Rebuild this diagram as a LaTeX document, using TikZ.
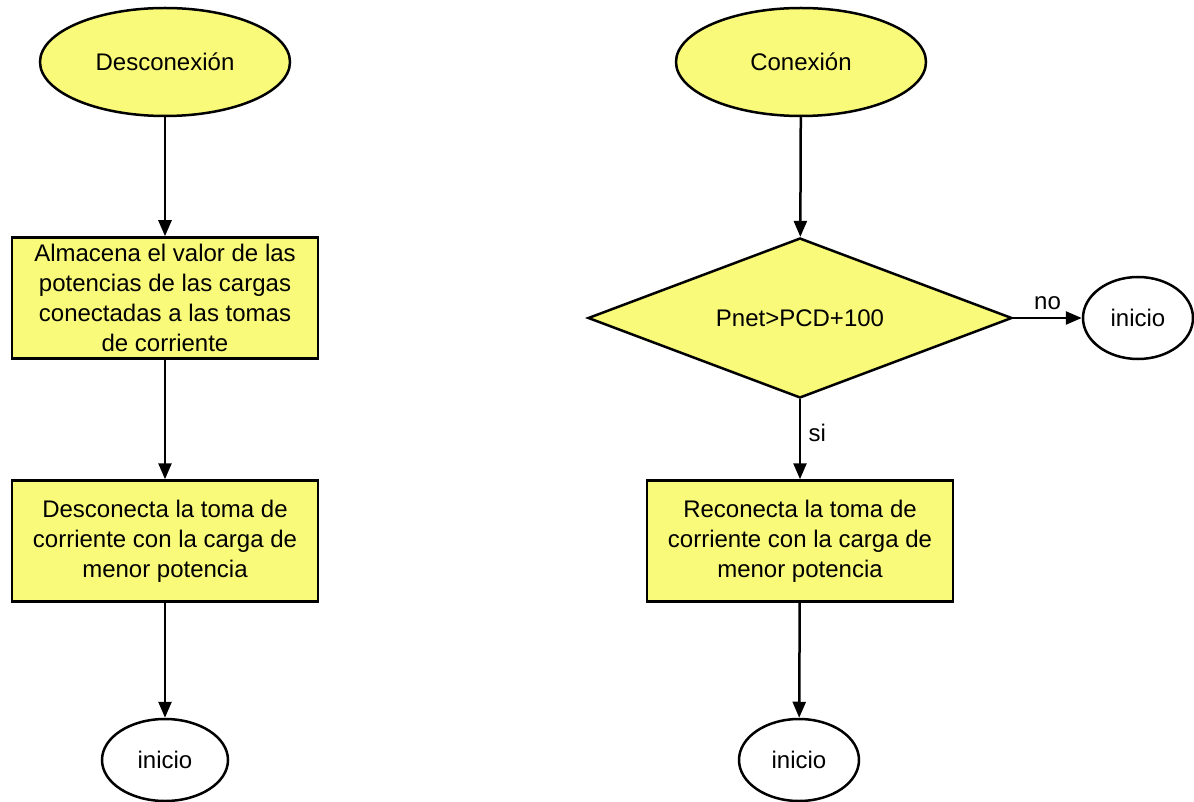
\documentclass[tikz,border=0pt]{standalone}
\usepackage{fontspec}
\setmainfont{Liberation Sans}
\usetikzlibrary{shapes.geometric,arrows.meta}
\definecolor{amarillo}{RGB}{250,250,122}

\tikzset{every picture/.style={line width=2.5pt}}
\tikzset{
	inicfin/.style={draw, ellipse, fill=amarillo, inner sep=0pt},
	proceso/.style={draw, rectangle, fill=amarillo, minimum width=306, minimum height=121, align=center, inner sep=0pt},
	decision/.style={draw, diamond, fill=amarillo, minimum width=424, minimum height=160, aspect=2.65, inner sep=0pt},
	retorno/.style={draw, ellipse, fill=white, inner sep=0pt},
	flecha/.style={-{Triangle[length=16pt,width=13pt]}}}

\begin{document}
\begin{tikzpicture}[x=1pt,y=1pt,yscale=-1,xscale=1,font=\fontsize{24}{30}\selectfont]
	\path[use as bounding box] (0,0) rectangle (1194,802);

	% Columna izquierda
	\draw (165,62) node [inicfin, minimum width=250, minimum height=108] (desc) {Desconexión};
	\draw (165,298) node [proceso] (almac) {Almacena el valor de las\\potencias de las cargas\\conectadas a las tomas\\de corriente};
	\draw (165,541) node [proceso] (descon) {Desconecta la toma de\\corriente con la carga de\\menor potencia};
	\draw (165,760) node [retorno, minimum width=126, minimum height=82] (ini1) {inicio};

	\draw [flecha] (desc) -- (almac);
	\draw [flecha] (almac) -- (descon);
	\draw [flecha] (descon) -- (ini1);

	% Columna derecha
	\draw (801,62) node [inicfin, minimum width=250, minimum height=108] (con) {Conexión};
	\draw (800,318) node [decision] (pnet) {Pnet>PCD+100};
	\draw (1138,318) node [retorno, minimum width=110, minimum height=82] (ini2) {inicio};
	\draw (800,541) node [proceso] (recon) {Reconecta la toma de\\corriente con la carga de\\menor potencia};
	\draw (799,760) node [retorno, minimum width=120, minimum height=82] (ini3) {inicio};

	\draw [flecha] (con) -- (pnet);
	\draw [flecha] (pnet) -- node [above=4pt] {no} (ini2);
	\draw [flecha] (pnet) -- node [right=4pt, pos=0.42] {si} (recon);
	\draw [flecha] (recon) -- (ini3);

\end{tikzpicture}
\end{document}
